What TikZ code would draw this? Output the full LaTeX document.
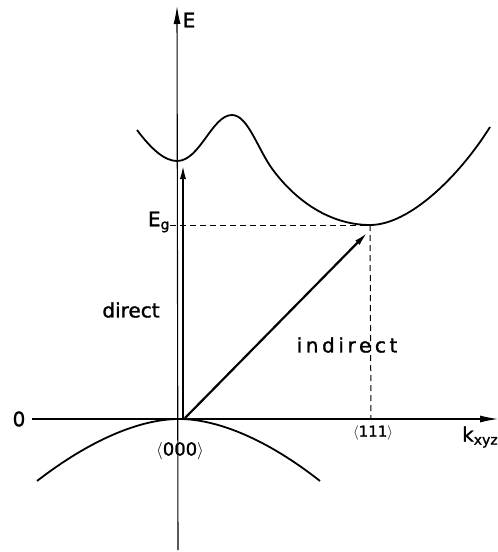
\documentclass[tikz,border=0pt]{standalone}
\usepackage{fontspec}
\setmainfont{DejaVu Sans}
\newfontfamily\lblfont[FakeBold=1.3]{DejaVu Sans}
\newfontfamily\spacedfont[LetterSpace=18,FakeBold=1.3]{DejaVu Sans}
\usetikzlibrary{arrows.meta,positioning}

\begin{document}
\begin{tikzpicture}[
  x=1pt, y=-1pt,
  axis/.style={line width=1.1pt,-{Latex[length=18pt,width=7pt]}},
  band/.style={line width=1.8pt},
  trans/.style={line width=2.2pt,-{Latex[length=15pt,width=6pt]}},
  guide/.style={line width=1pt,dash pattern=on 6pt off 4pt},
  lbl/.style={font=\fontsize{20}{22}\lblfont,inner sep=0pt},
  tick/.style={font=\fontsize{18}{20}\selectfont,inner sep=0pt},
]
\useasboundingbox (0,0) rectangle (498,552);

% axes and reference points
\coordinate (Ebot) at (178,550);
\coordinate (Etop) at (177,6);
\coordinate (kleft) at (32,419);
\coordinate (kright) at (498,419);
\coordinate (dirbot) at (183,419);
\coordinate (dirtop) at (183,164);
\coordinate (indbot) at (185,418);
\coordinate (indtop) at (368,232);
\coordinate (gapleft) at (170,225);
\coordinate (cbmin) at (370,225);
\coordinate (lfoot) at (371,419);

\draw[axis] (Ebot) -- (Etop);
\draw[axis] (kleft) -- (kright);

% bands
\draw[band] (137,130) .. controls (152,150) and (165,161) .. (177,161)
  .. controls (200,161) and (212,115) .. (232,115)
  .. controls (248,115) and (258,150) .. (273,170)
  .. controls (300,206) and (335,225) .. (cbmin)
  .. controls (410,225) and (460,175) .. (490,127);
\draw[band] (37,481) .. controls (90,440) and (140,419) .. (179,419)
  .. controls (218,419) and (268,440) .. (320,481);

% gap and transitions
\draw[guide] (gapleft) -- (cbmin);
\draw[guide] (cbmin) -- (lfoot);
\draw[trans] (dirbot) -- (dirtop);
\draw[trans] (indbot) -- (indtop);

\node[lbl] (Elbl) at (189,20) {E};
\node[lbl] (zero) at (19,419) {0};
\node[lbl] (Eg) at (159,222) {E\textsubscript{g}};
\node[lbl] (direct) at (131,310) {direct};
\node[lbl,font=\fontsize{20}{22}\spacedfont] (indirect) at (347,345) {indirect};
\node[tick] (k000) at (180,451) {$\langle$\lblfont 000$\rangle$};
\node[tick,font=\fontsize{15}{17}\selectfont] (k111) at (373,433) {$\langle$\lblfont 111$\rangle$};
\node[lbl,anchor=west] (kxyz) at (462,437) {k\textsubscript{xyz}};
\end{tikzpicture}
\end{document}
